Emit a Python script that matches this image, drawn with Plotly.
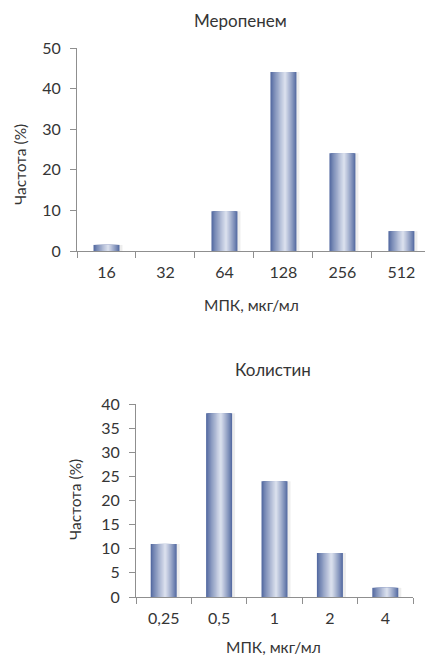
import plotly.graph_objects as go

# ---- data ----
mero_cats = ["16", "32", "64", "128", "256", "512"]
mero_vals = [1.5, 0, 9.8, 44.1, 24.1, 4.9]

coli_cats = ["0,25", "0,5", "1", "2", "4"]
coli_vals = [11.0, 38.1, 24.0, 9.1, 1.9]

title_top = "Меропенем"
title_bot = "Колистин"
ytitle = "Частота (%)"
xtitle = "МПК, мкг/мл"

FONT = "Lato"
TXT = "#353535"
LINE = "#8f8f8f"

dark = (86, 108, 162)
light = (216, 222, 236)


def mix(t):
    c = [round(dark[i] + (light[i] - dark[i]) * t) for i in range(3)]
    return f"rgb({c[0]},{c[1]},{c[2]})"


fig = go.Figure()


def add_bars(cats, vals, xa, ya, w, px_per_cat):
    # faint shadow on the right
    sh = 3 / px_per_cat
    fig.add_trace(go.Bar(x=cats, y=vals, xaxis=xa, yaxis=ya, width=w,
                         offset=-w / 2 + sh, marker=dict(color="rgba(0,0,0,0.07)", line_width=0),
                         showlegend=False, hoverinfo="skip"))
    n = 12
    peak = 0.56  # fraction of bar width where the highlight sits
    for k in range(n):
        f = k / n
        left = -w / 2 + w * peak * f
        right = w / 2 - w * (1 - peak) * f
        t = (k / (n - 1)) ** 0.9
        fig.add_trace(go.Bar(x=cats, y=vals, xaxis=xa, yaxis=ya, width=right - left,
                             offset=left, marker=dict(color=mix(t), line_width=0),
                             showlegend=False, hoverinfo="skip"))


add_bars(mero_cats, mero_vals, "x", "y", 26 / 59, 59)
add_bars(coli_cats, coli_vals, "x2", "y2", 26 / 55.4, 55.4)

W, H = 425, 655

axis_common = dict(showline=True, linecolor=LINE, linewidth=1, ticks="outside",
                   ticklen=6, tickcolor=LINE, showgrid=False, zeroline=False,
                   automargin=False,
                   tickfont=dict(family=FONT, size=16, color=TXT))

fig.update_layout(
    width=W, height=H, margin=dict(l=0, r=0, t=0, b=0, pad=0),
    paper_bgcolor="white", plot_bgcolor="white", barmode="overlay",
    font=dict(family=FONT, color=TXT),
    xaxis=dict(axis_common, type="category", domain=[77 / W, 1.0],
               range=[-0.5, 5.4], tickson="boundaries", anchor="y",
               ticklabelstandoff=7),
    yaxis=dict(axis_common, domain=[(H - 251) / H, (H - 48) / H], range=[0, 50],
               dtick=10, anchor="x", ticklabelstandoff=6),
    xaxis2=dict(axis_common, type="category", domain=[136 / W, 413 / W],
                range=[-0.5, 4.5], tickson="boundaries", anchor="y2",
                ticklabelstandoff=7),
    yaxis2=dict(axis_common, domain=[(H - 597) / H, (H - 404) / H], range=[0, 40],
                dtick=5, anchor="x2", ticklabelstandoff=6),
)

ann = [
    dict(text=title_top, x=240, y=20, size=17),
    dict(text=xtitle, x=252, y=305, size=15.5),
    dict(text=title_bot, x=273, y=369, size=17),
    dict(text=xtitle, x=273, y=647, size=15.5),
]
for a in ann:
    fig.add_annotation(text=a["text"], x=a["x"] / W, y=1 - a["y"] / H,
                       xref="paper", yref="paper", showarrow=False,
                       xanchor="center", yanchor="middle",
                       font=dict(family=FONT, size=a["size"], color=TXT))

fig.add_annotation(text=ytitle, x=20 / W, y=1 - 165 / H, xref="paper", yref="paper",
                   showarrow=False, textangle=-90, xanchor="center", yanchor="middle",
                   font=dict(family=FONT, size=15.5, color=TXT))
fig.add_annotation(text=ytitle, x=75 / W, y=1 - 500 / H, xref="paper", yref="paper",
                   showarrow=False, textangle=-90, xanchor="center", yanchor="middle",
                   font=dict(family=FONT, size=15.5, color=TXT))

fig.write_html("out.html",
               post_script="document.body.style.margin='0';document.body.style.overflow='hidden';")
